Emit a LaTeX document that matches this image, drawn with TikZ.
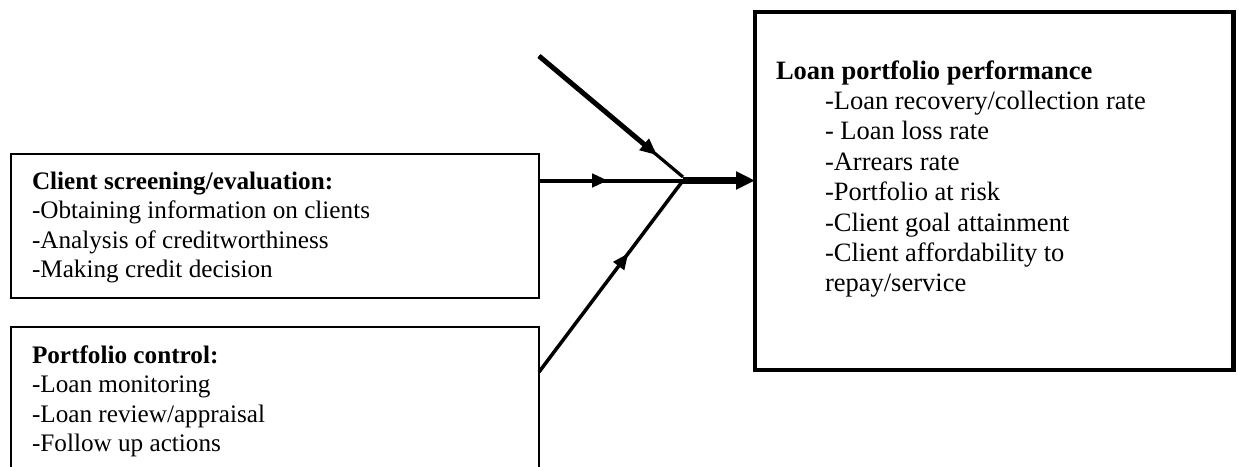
\documentclass[tikz,border=0pt]{standalone}
\usepackage{fontspec}
\setmainfont{Liberation Serif}
\usetikzlibrary{arrows.meta,decorations.markings,calc}
\begin{document}
\begin{tikzpicture}[x=1pt,y=-1pt,
  box/.style={draw, rectangle, inner sep=0pt, outer sep=0pt, line width=2.2pt},
  lbl/.style={inner sep=0pt, outer sep=0pt, anchor=base west},
  midarrow/.style={postaction={decorate}, decoration={markings,
      mark=at position #1 with {\arrow{Triangle[length=16pt,width=13pt]}}}},
  conn/.style={line width=4pt},
]
\useasboundingbox (0,0) rectangle (1238,466);
\clip (0,0) rectangle (1238,466);

% boxes
\node[box, minimum width=528pt, minimum height=144pt] (screen) at (275,226) {};
\node[box, minimum width=528pt, minimum height=193pt] (control) at (275,423.5) {};
\node[box, line width=4.5pt, minimum width=478.5pt, minimum height=358pt] (perf) at (994.25,191) {};

% texts
\node[lbl] (screentxt) at (32,189) {\fontsize{25.2}{29.6}\selectfont
  \begin{tabular}[t]{@{}l@{}}
  \textbf{Client screening/evaluation:}\\
  -Obtaining information on clients\\
  -Analysis of creditworthiness\\
  -Making credit decision
  \end{tabular}};
\node[lbl] (controltxt) at (32,363) {\fontsize{25.2}{29.6}\selectfont
  \begin{tabular}[t]{@{}l@{}}
  \textbf{Portfolio control:}\\
  -Loan monitoring\\
  -Loan review/appraisal\\
  -Follow up actions
  \end{tabular}};
\node[lbl] (perftxt) at (776,79) {\fontsize{26.5}{30.4}\selectfont
  \begin{tabular}[t]{@{}l@{}}
  \textbf{Loan portfolio performance}\\
  \hspace*{49pt}-Loan recovery/collection rate\\
  \hspace*{49pt}- Loan loss rate\\
  \hspace*{49pt}-Arrears rate\\
  \hspace*{49pt}-Portfolio at risk\\
  \hspace*{49pt}-Client goal attainment\\
  \hspace*{49pt}-Client affordability to\\
  \hspace*{49pt}repay/service
  \end{tabular}};

% connectors
\coordinate (src) at (539,56);
\coordinate (j) at (683,180.5);
\coordinate (jt) at (683,177);

\draw[line width=3.2pt] (src) -- (jt);
\draw[line width=5pt, -{Triangle[length=17pt,width=14pt]}] (src) -- ($(src)!0.82!(jt)$);

\draw[conn, midarrow=0.48] ([yshift=-26.5pt]screen.north east) -- (j);
\draw[line width=3.5pt, midarrow=0.62] ([yshift=-45pt]control.north east) -- (j);
\draw[line width=6.5pt, -{Triangle[length=19pt,width=17pt]}] (j) -- (j -| perf.west);
\end{tikzpicture}
\end{document}
